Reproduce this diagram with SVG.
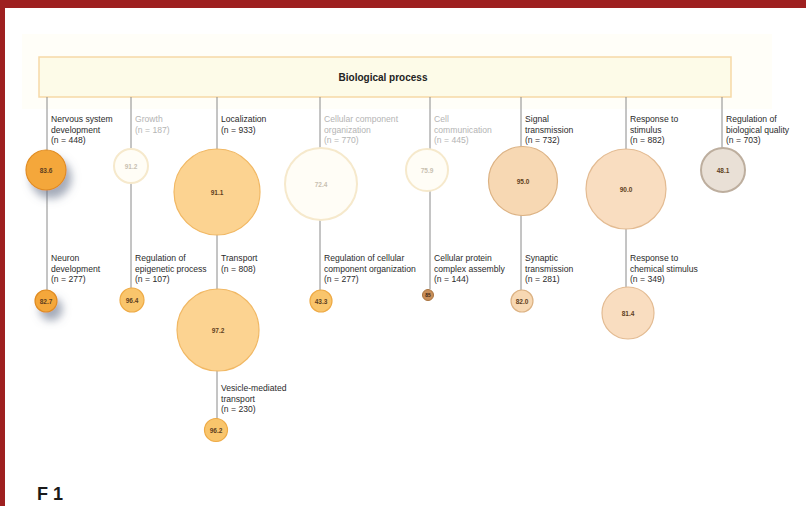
<svg xmlns="http://www.w3.org/2000/svg" width="806" height="506" viewBox="0 0 806 506">
<defs>
<filter id="shadow" x="-60%" y="-60%" width="240%" height="240%">
<feGaussianBlur in="SourceAlpha" stdDeviation="4"/>
<feOffset dx="5" dy="8" result="b"/>
<feFlood flood-color="#5a6680" flood-opacity="0.55"/>
<feComposite in2="b" operator="in"/>
<feMerge><feMergeNode/><feMergeNode in="SourceGraphic"/></feMerge>
</filter>
</defs>
<style>
.lbl{font-family:"Liberation Sans",Arial,sans-serif;font-size:8.6px;fill:#2b2b2b}
.lbl.g{fill:#b4b4b4}
.val{font-family:"Liberation Sans",Arial,sans-serif;font-size:6.5px;font-weight:bold;fill:#5e4020;text-anchor:middle}
.val.g{fill:#c8c0b0}
.conn line{stroke:#8a8a8a;stroke-width:1}
.c1{fill:#f4a73b;stroke:#e08c22;stroke-width:1.2}
.c2{fill:#fcd391;stroke:#f1b864;stroke-width:1.2}
.c3{fill:#f9c56c;stroke:#eeaa45;stroke-width:1.2}
.cw{fill:#fffdf6;stroke:#f6e9cc;stroke-width:2}
.c4{fill:#f7d8b3;stroke:#dcb283;stroke-width:1.2}
.c5{fill:#f9ddc0;stroke:#e3bb92;stroke-width:1.2}
.c6{fill:#e9e0d6;stroke:#bdae9e;stroke-width:2}
.c7{fill:#c98f5a;stroke:#a8733f;stroke-width:1}
</style>
<rect width="806" height="506" fill="#ffffff"/>
<rect x="0" y="0" width="806" height="8" fill="#9e2020"/>
<rect x="0" y="0" width="5" height="506" fill="#9e2020"/>
<rect x="22" y="34" width="750" height="75" fill="#fffef8"/>

<g id="header">
<rect x="39" y="57" width="692" height="40" fill="#fdfbe8" stroke="#f6d9a6" stroke-width="1.5"/>
<text x="383" y="80.5" font-family="'Liberation Sans',Arial,sans-serif" font-size="10" font-weight="bold" fill="#222" text-anchor="middle">Biological process</text>
</g>

<g id="connectors" class="conn">
<line x1="47" y1="97" x2="47" y2="290"/>
<line x1="131" y1="97" x2="131" y2="288"/>
<line x1="217" y1="97" x2="217" y2="419"/>
<line x1="320" y1="97" x2="320" y2="291"/>
<line x1="430" y1="97" x2="430" y2="289"/>
<line x1="521" y1="97" x2="521" y2="290"/>
<line x1="626" y1="97" x2="626" y2="287"/>
<line x1="722" y1="97" x2="722" y2="148"/>
</g>

<g id="nervous-system-development">
<text class="lbl" x="51" y="122">Nervous system</text>
<text class="lbl" x="51" y="132.5">development</text>
<text class="lbl" x="51" y="143">(n = 448)</text>
<circle class="c1" cx="46" cy="170" r="20" filter="url(#shadow)"/>
<text class="val" x="46" y="172.5">83.6</text>
</g>

<g id="neuron-development">
<text class="lbl" x="51" y="261">Neuron</text>
<text class="lbl" x="51" y="271.5">development</text>
<text class="lbl" x="51" y="282">(n = 277)</text>
<circle class="c1" cx="46" cy="301" r="11" filter="url(#shadow)"/>
<text class="val" x="46" y="303.5">82.7</text>
</g>

<g id="growth">
<text class="lbl g" x="135" y="122">Growth</text>
<text class="lbl g" x="135" y="132.5">(n = 187)</text>
<circle class="cw" cx="131" cy="166" r="17"/>
<text class="val g" x="131" y="168.5">91.2</text>
</g>

<g id="regulation-epigenetic">
<text class="lbl" x="135" y="261">Regulation of</text>
<text class="lbl" x="135" y="271.5">epigenetic process</text>
<text class="lbl" x="135" y="282">(n = 107)</text>
<circle class="c3" cx="132" cy="300" r="12"/>
<text class="val" x="132" y="302.5">96.4</text>
</g>

<g id="localization">
<text class="lbl" x="221" y="122">Localization</text>
<text class="lbl" x="221" y="132.5">(n = 933)</text>
<circle class="c2" cx="217" cy="192" r="43"/>
<text class="val" x="217" y="194.5">91.1</text>
</g>

<g id="transport">
<text class="lbl" x="221" y="261">Transport</text>
<text class="lbl" x="221" y="271.5">(n = 808)</text>
<circle class="c2" cx="218" cy="330" r="41"/>
<text class="val" x="218" y="332.5">97.2</text>
</g>

<g id="vesicle-mediated-transport">
<text class="lbl" x="221" y="391">Vesicle-mediated</text>
<text class="lbl" x="221" y="401.5">transport</text>
<text class="lbl" x="221" y="412">(n = 230)</text>
<circle class="c3" cx="216" cy="430" r="11.5"/>
<text class="val" x="216" y="432.5">96.2</text>
</g>

<g id="cellular-component-organization">
<text class="lbl g" x="324" y="122">Cellular component</text>
<text class="lbl g" x="324" y="132.5">organization</text>
<text class="lbl g" x="324" y="143">(n = 770)</text>
<circle class="cw" cx="321" cy="184" r="36"/>
<text class="val g" x="321" y="186.5">72.4</text>
</g>

<g id="regulation-cellular-component-organization">
<text class="lbl" x="324" y="261">Regulation of cellular</text>
<text class="lbl" x="324" y="271.5">component organization</text>
<text class="lbl" x="324" y="282">(n = 277)</text>
<circle class="c3" cx="321" cy="301" r="11"/>
<text class="val" x="321" y="303.5">43.3</text>
</g>

<g id="cell-communication">
<text class="lbl g" x="434" y="122">Cell</text>
<text class="lbl g" x="434" y="132.5">communication</text>
<text class="lbl g" x="434" y="143">(n = 445)</text>
<circle class="cw" cx="427" cy="170" r="21"/>
<text class="val g" x="427" y="172.5">75.9</text>
</g>

<g id="cellular-protein-complex-assembly">
<text class="lbl" x="434" y="261">Cellular protein</text>
<text class="lbl" x="434" y="271.5">complex assembly</text>
<text class="lbl" x="434" y="282">(n = 144)</text>
<circle class="c7" cx="428" cy="295" r="5.5"/>
<text class="val" x="428" y="297" style="font-size:5px;fill:#3a2410">85</text>
</g>

<g id="signal-transmission">
<text class="lbl" x="525" y="122">Signal</text>
<text class="lbl" x="525" y="132.5">transmission</text>
<text class="lbl" x="525" y="143">(n = 732)</text>
<circle class="c4" cx="523" cy="181" r="34.5"/>
<text class="val" x="523" y="183.5">95.0</text>
</g>

<g id="synaptic-transmission">
<text class="lbl" x="525" y="261">Synaptic</text>
<text class="lbl" x="525" y="271.5">transmission</text>
<text class="lbl" x="525" y="282">(n = 281)</text>
<circle class="c4" cx="522" cy="301" r="11"/>
<text class="val" x="522" y="303.5">82.0</text>
</g>

<g id="response-to-stimulus">
<text class="lbl" x="630" y="122">Response to</text>
<text class="lbl" x="630" y="132.5">stimulus</text>
<text class="lbl" x="630" y="143">(n = 882)</text>
<circle class="c5" cx="626" cy="189" r="40"/>
<text class="val" x="626" y="191.5">90.0</text>
</g>

<g id="response-to-chemical-stimulus">
<text class="lbl" x="630" y="261">Response to</text>
<text class="lbl" x="630" y="271.5">chemical stimulus</text>
<text class="lbl" x="630" y="282">(n = 349)</text>
<circle class="c5" cx="628" cy="313" r="26"/>
<text class="val" x="628" y="315.5">81.4</text>
</g>

<g id="regulation-of-biological-quality">
<text class="lbl" x="726" y="122">Regulation of</text>
<text class="lbl" x="726" y="132.5">biological quality</text>
<text class="lbl" x="726" y="143">(n = 703)</text>
<circle class="c6" cx="723" cy="170" r="22"/>
<text class="val" x="723" y="172.5">48.1</text>
</g>

<text x="37" y="500" font-family="'Liberation Sans',Arial,sans-serif" font-size="18" font-weight="bold" fill="#1a1a1a">F 1</text>
</svg>
